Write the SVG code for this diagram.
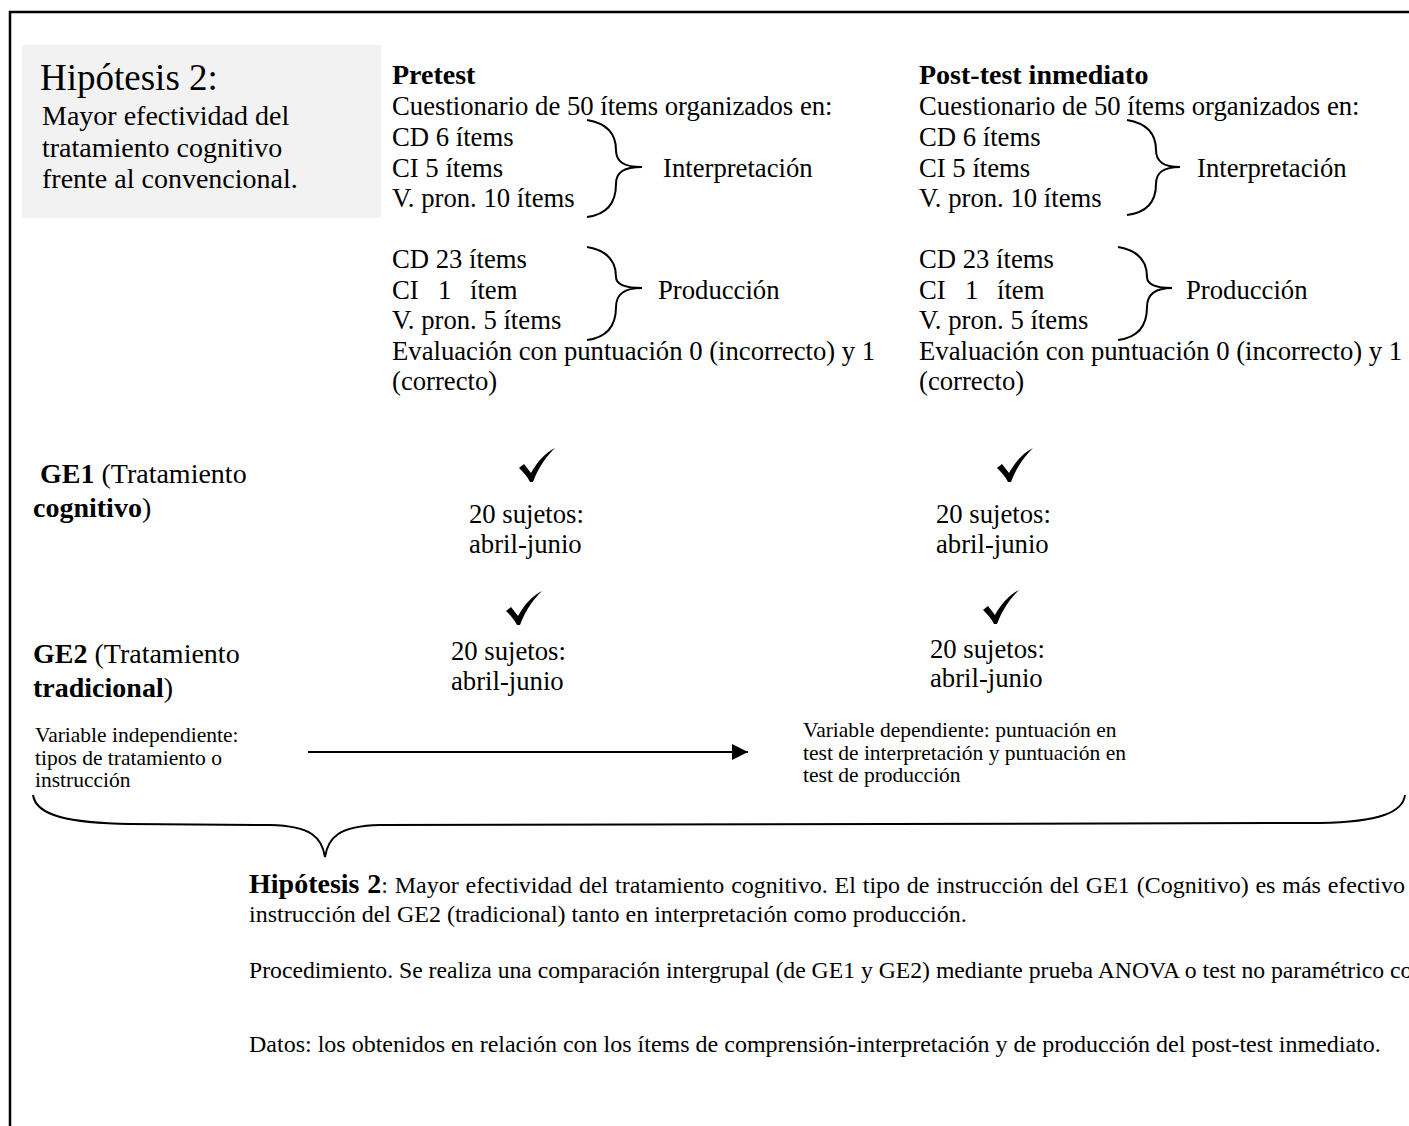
<svg xmlns="http://www.w3.org/2000/svg" width="1409" height="1126" viewBox="0 0 1409 1126">
<style>
text{font-family:"Liberation Serif","Times New Roman",serif;fill:#000}
.m{font-size:26.7px}
.b{font-weight:bold}
.s{font-size:21.5px}
.t{font-size:24px}
.ln{fill:none;stroke:#000;stroke-width:2}
</style>
<defs>
<path id="chk" d="M0,20 L5,16 L12,25 C18,14 26,5 36,0 C28,8 20,18 14,34 L11,34 C8,28 4,24 0,20 Z" fill="#000"/>
<marker id="ah" markerWidth="16" markerHeight="16" refX="16" refY="8" orient="auto" markerUnits="userSpaceOnUse"><path d="M0,0 L16,8 L0,16 Z" fill="#000"/></marker>
</defs>
<rect width="1409" height="1126" fill="#fff"/>
<g id="frame"><path d="M10,1126 L10,12 L1409,12" fill="none" stroke="#000" stroke-width="2.5"/></g>
<g id="hipotesis-box">
<rect x="22" y="45" width="359" height="173" fill="#f2f2f2"/>
<text x="40" y="90" style="font-size:37px">Hipótesis 2:</text>
<text x="42" y="125" style="font-size:28px">Mayor efectividad del</text>
<text x="42" y="157" style="font-size:28px">tratamiento cognitivo</text>
<text x="42" y="188" style="font-size:28px">frente al convencional.</text>
</g>
<g id="pretest">
<text x="392" y="84" class="b" style="font-size:28px">Pretest</text>
<text x="392" y="115" class="m">Cuestionario de 50 ítems organizados en:</text>
<text x="392" y="146" class="m">CD 6 ítems</text>
<text x="392" y="177" class="m">CI 5 ítems</text>
<text x="392" y="207" class="m">V. pron. 10 ítems</text>
<text x="663" y="177" class="m">Interpretación</text>
<text x="392" y="268" class="m">CD 23 ítems</text>
<text y="299" class="m"><tspan x="392">CI</tspan><tspan x="438">1</tspan><tspan x="470">ítem</tspan></text>
<text x="392" y="329" class="m">V. pron. 5 ítems</text>
<text x="658" y="299" class="m">Producción</text>
<text x="392" y="360" class="m">Evaluación con puntuación 0 (incorrecto) y 1</text>
<text x="392" y="390" class="m">(correcto)</text>
</g>
<g id="posttest">
<text x="919" y="84" class="b" style="font-size:28px">Post-test inmediato</text>
<text x="919" y="115" class="m">Cuestionario de 50 ítems organizados en:</text>
<text x="919" y="146" class="m">CD 6 ítems</text>
<text x="919" y="177" class="m">CI 5 ítems</text>
<text x="919" y="207" class="m">V. pron. 10 ítems</text>
<text x="1197" y="177" class="m">Interpretación</text>
<text x="919" y="268" class="m">CD 23 ítems</text>
<text y="299" class="m"><tspan x="919">CI</tspan><tspan x="965">1</tspan><tspan x="997">ítem</tspan></text>
<text x="919" y="329" class="m">V. pron. 5 ítems</text>
<text x="1186" y="299" class="m">Producción</text>
<text x="919" y="360" class="m">Evaluación con puntuación 0 (incorrecto) y 1</text>
<text x="919" y="390" class="m">(correcto)</text>
</g>
<g id="ge1">
<text x="40" y="483" style="font-size:28px"><tspan class="b">GE1</tspan> (Tratamiento</text>
<text x="33" y="517" style="font-size:28px"><tspan class="b">cognitivo</tspan>)</text>
</g>
<g id="ge2">
<text x="33" y="663" style="font-size:28px"><tspan class="b">GE2</tspan> (Tratamiento</text>
<text x="33" y="697" style="font-size:28px"><tspan class="b">tradicional</tspan>)</text>
</g>
<g id="ge1-pre">
<use href="#chk" x="519" y="448"/>
<text x="469" y="523" class="m">20 sujetos:</text>
<text x="469" y="553" class="m">abril-junio</text>
</g>
<g id="ge1-post">
<use href="#chk" x="997" y="448"/>
<text x="936" y="523" class="m">20 sujetos:</text>
<text x="936" y="553" class="m">abril-junio</text>
</g>
<g id="ge2-pre">
<use href="#chk" x="506" y="591"/>
<text x="451" y="660" class="m">20 sujetos:</text>
<text x="451" y="690" class="m">abril-junio</text>
</g>
<g id="ge2-post">
<use href="#chk" x="983" y="590"/>
<text x="930" y="658" class="m">20 sujetos:</text>
<text x="930" y="687" class="m">abril-junio</text>
</g>
<g id="var-indep">
<text x="35" y="742" class="s">Variable independiente:</text>
<text x="35" y="765" class="s">tipos de tratamiento o</text>
<text x="35" y="787" class="s">instrucción</text>
</g>
<g id="var-dep">
<text x="803" y="737" class="s">Variable dependiente: puntuación en</text>
<text x="803" y="760" class="s">test de interpretación y puntuación en</text>
<text x="803" y="782" class="s">test de producción</text>
</g>
<g id="connectors">
<path class="ln" d="M587,120 C611,124 616,138 616,150 C616,162 624,167 642,167 C624,167 616,172 616,184 C616,198 611,214 587,217"/>
<path class="ln" d="M587,247 C611,251 616,265 616,277 C616,284 624,288 642,288 C624,288 616,294 616,307 C616,322 611,337 587,340"/>
<path class="ln" d="M1127,120 C1151,124 1156,138 1156,150 C1156,162 1164,167 1180,167 C1164,167 1156,172 1156,184 C1156,198 1151,212 1127,215"/>
<path class="ln" d="M1118,247 C1142,251 1147,265 1147,277 C1147,284 1155,288 1172,288 C1155,288 1147,294 1147,307 C1147,322 1142,337 1118,340"/>
<line class="ln" x1="308" y1="752" x2="748" y2="752" marker-end="url(#ah)"/>
<path class="ln" d="M33,795 C36,816 70,823 130,824 L270,825 C312,826 322,838 325,857 C328,838 338,826 380,825 L1320,823 C1380,822 1403,812 1405,795"/>
</g>
<g id="conclusion">
<text x="249" y="893" class="t" style="word-spacing:0.8px"><tspan class="b" style="font-size:28px">Hipótesis 2</tspan>: Mayor efectividad del tratamiento cognitivo. El tipo de instrucción del GE1 (Cognitivo) es más efectivo</text>
<text x="249" y="922" class="t">instrucción del GE2 (tradicional) tanto en interpretación como producción.</text>
<text x="249" y="978" class="t" style="font-size:23.7px">Procedimiento. Se realiza una comparación intergrupal (de GE1 y GE2) mediante prueba ANOVA o test no paramétrico co</text>
<text x="249" y="1052" class="t">Datos: los obtenidos en relación con los ítems de comprensión-interpretación y de producción del post-test inmediato.</text>
</g>
</svg>
